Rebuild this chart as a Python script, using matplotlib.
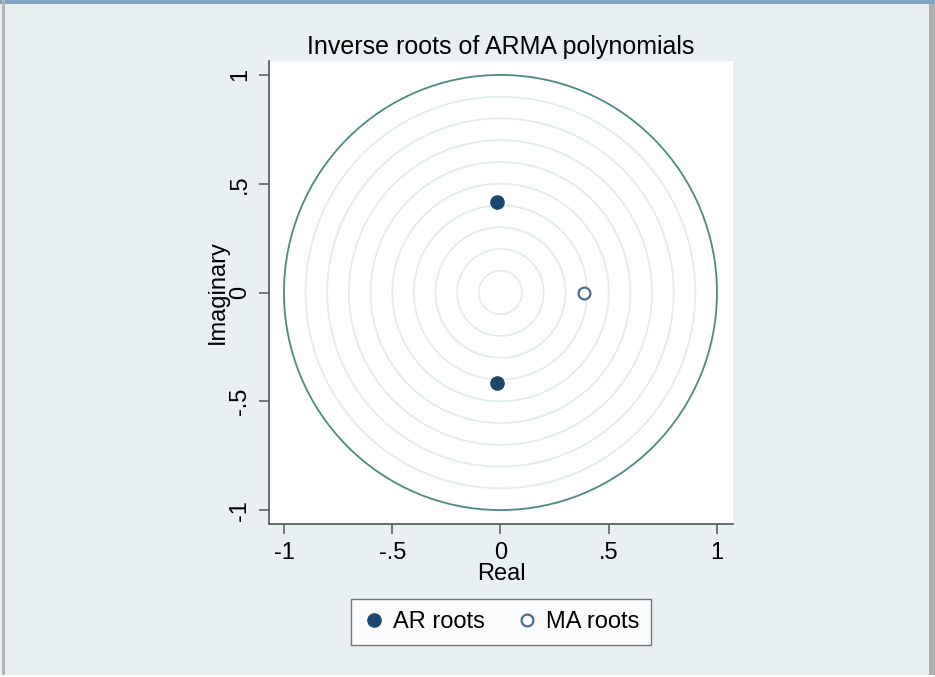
import matplotlib.pyplot as plt
import numpy as np
from matplotlib.patches import Circle, Rectangle

plt.rcParams['font.family'] = ['Liberation Sans', 'DejaVu Sans']

# inverse roots
ar_real = [-0.015, -0.015]
ar_imag = [0.416, -0.416]
ma_real = [0.386]
ma_imag = [0.0]

ticks = [-1, -0.5, 0, 0.5, 1]
tick_labels = ['-1', '-.5', '0', '.5', '1']
grid_radii = [0.1, 0.2, 0.3, 0.4, 0.5, 0.6, 0.7, 0.8, 0.9]

bg = '#e8f0f2'
fig = plt.figure(figsize=(9.35, 6.77), dpi=100, facecolor=bg)

# screenshot frame
fig.add_artist(Rectangle((0, 1 - 4 / 677), 1, 4 / 677, transform=fig.transFigure,
                         color='#7ea6c6', lw=0))
fig.add_artist(Rectangle((2 / 935, 0), 3 / 935, 1, transform=fig.transFigure,
                         color='#b4b4b4', lw=0))
fig.add_artist(Rectangle((929 / 935, 0), 6 / 935, 1 - 4 / 677, transform=fig.transFigure,
                         color='#b0b0b0', lw=0))
fig.add_artist(Rectangle((0, 0), 1, 2 / 677, transform=fig.transFigure,
                         color='white', lw=0))

ax = fig.add_axes([269 / 935, 1 - 524 / 677, 464 / 935, 463 / 677])
ax.set_facecolor('white')

for r in grid_radii:
    ax.add_patch(Circle((0, 0), r, fill=False, ec='#e3ecec', lw=1.3))
ax.add_patch(Circle((0, 0), 1, fill=False, ec='#4b8a80', lw=1.3))

ax.plot(ar_real, ar_imag, 'o', color='#1a476f', ms=9.5, ls='none', label='AR roots')
ax.plot(ma_real, ma_imag, 'o', mfc='white', mec='#4a6d8c', mew=1.6, ms=8.5,
        ls='none', label='MA roots')

ax.set_xlim(-1.069, 1.074)
ax.set_ylim(-1.064, 1.064)

for s in ['top', 'right']:
    ax.spines[s].set_visible(False)
for s in ['left', 'bottom']:
    ax.spines[s].set_color('#555555')
    ax.spines[s].set_linewidth(1.2)

ax.set_xticks(ticks)
ax.set_xticklabels(tick_labels)
ax.set_yticks(ticks)
ax.set_yticklabels(tick_labels, rotation=90, va='center')
ax.tick_params(direction='out', length=7, width=1.1, color='#555555',
               labelsize=17, pad=6)

ax.set_xlabel('Real', fontsize=17, labelpad=-1)
ax.set_ylabel('Imaginary', fontsize=17, labelpad=0)
ax.set_title('Inverse roots of ARMA polynomials', fontsize=18, pad=5)

leg = fig.legend(loc='center', bbox_to_anchor=(501 / 935, 1 - 622 / 677), ncol=2,
                 fontsize=17, frameon=True, fancybox=False, shadow=False,
                 edgecolor='#555555', handletextpad=0.3, columnspacing=1.3,
                 handlelength=1.0, borderpad=0.5)
leg.get_frame().set_linewidth(1.0)

fig.savefig('out.png', dpi=100, facecolor=bg)
